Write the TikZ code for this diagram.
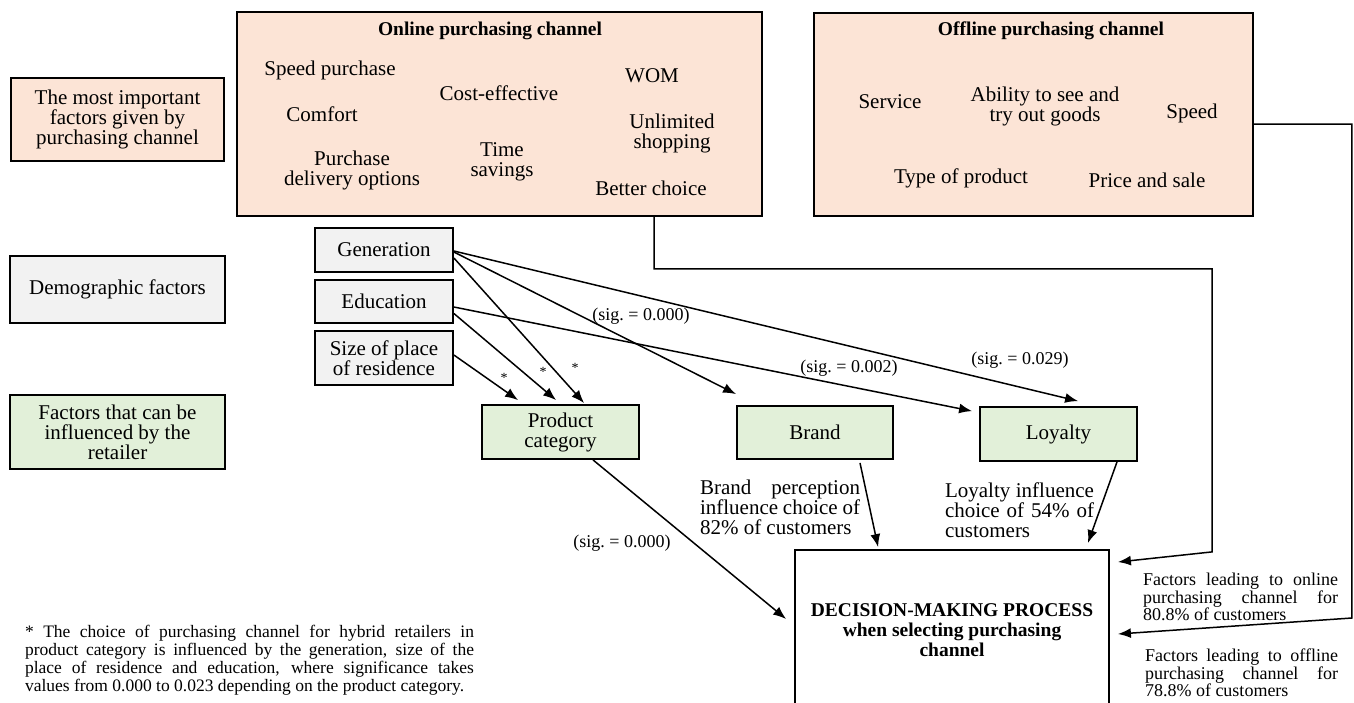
\documentclass[tikz,border=0pt]{standalone}
\usepackage{fontspec}
\setmainfont{Liberation Serif}
\usetikzlibrary{arrows.meta}
\definecolor{peachbg}{HTML}{FCE4D6}
\definecolor{greybg}{HTML}{F2F2F2}
\definecolor{greenbg}{HTML}{E2F0D9}
\newcommand{\txtmain}{\fontsize{21}{20}\selectfont}
\newcommand{\txtsmall}{\fontsize{18}{16.5}\selectfont}
\newcommand{\txtnote}{\fontsize{17.5}{18}\selectfont}
\newcommand{\txtsig}{\fontsize{18}{18}\selectfont}
\newcommand{\txttitle}{\fontsize{19.5}{20}\selectfont\bfseries}

\begin{document}
\begin{tikzpicture}[x=1pt, y=-1pt,
    box/.style={draw, line width=1.8pt, inner sep=0pt, align=center, font=\txtmain},
    peachbox/.style={box, fill=peachbg},
    greybox/.style={box, fill=greybg},
    greenbox/.style={box, fill=greenbg},
    lbl/.style={inner sep=0pt, align=center, font=\txtmain},
    sig/.style={inner sep=0pt, font=\txtsig},
    star/.style={inner sep=0pt, font=\fontsize{14}{14}\selectfont},
    arr/.style={-{Latex[length=13pt,width=10pt]}, line width=1.5pt}]
    \useasboundingbox (0,0) rectangle (1354,702);
    % left column
    \node[peachbox, minimum width=213pt, minimum height=83pt] (imp) at (117.5,119.5) {The most important\\factors given by\\purchasing channel};
    \node[greybox, minimum width=215pt, minimum height=67pt] (demo) at (117.5,289.5) {Demographic factors};
    \node[greenbox, minimum width=215pt, minimum height=74pt] (infl) at (117.5,432) {Factors that can be\\influenced by the\\retailer};
    % purchasing channels
    \node[peachbox, minimum width=525pt, minimum height=204pt] (online) at (499.5,114) {};
    \node[lbl, font=\txttitle] (onTitle) at (490,31) {Online purchasing channel};
    \node[lbl] (onSpeed) at (330,70) {Speed purchase};
    \node[lbl] (onCost) at (499,93) {Cost-effective};
    \node[lbl] (onWom) at (652,76) {WOM};
    \node[lbl] (onComfort) at (322,114) {Comfort};
    \node[lbl] (onUnlim) at (672,133) {Unlimited\\shopping};
    \node[lbl] (onDeliv) at (352,170) {Purchase\\delivery options};
    \node[lbl] (onTime) at (502,162) {Time\\savings};
    \node[lbl] (onChoice) at (651,188) {Better choice};
    \node[peachbox, minimum width=439pt, minimum height=203pt] (offline) at (1033.5,114.5) {};
    \node[lbl, font=\txttitle] (offTitle) at (1051,31) {Offline purchasing channel};
    \node[lbl] (offService) at (890,102) {Service};
    \node[lbl] (offTry) at (1045,106) {Ability to see and\\try out goods};
    \node[lbl] (offSpeed) at (1192,113) {Speed};
    \node[lbl] (offType) at (961,178) {Type of product};
    \node[lbl] (offPrice) at (1147,180) {Price and sale};
    % demographic factors and retailer factors
    \node[greybox, minimum width=138pt, minimum height=44pt] (gen) at (384,250) {Generation};
    \node[greybox, minimum width=138pt, minimum height=43pt] (edu) at (384,301.5) {Education};
    \node[greybox, minimum width=138pt, minimum height=54pt] (size) at (384,358) {Size of place\\of residence};
    \node[greenbox, minimum width=157pt, minimum height=54pt] (prod) at (560.5,432) {Product\\category};
    \node[greenbox, minimum width=156pt, minimum height=53pt] (brand) at (815,432.5) {Brand};
    \node[greenbox, minimum width=157pt, minimum height=54pt] (loyal) at (1058.5,434) {Loyalty};
    \node[box, minimum width=314pt, minimum height=160pt, font=\txttitle] (dec) at (952,630) {DECISION-MAKING PROCESS\\when selecting purchasing\\channel};
    % connectors
    \draw[arr] ([yshift=3pt]size.east) -- ([xshift=37pt,yshift=4pt]prod.north west);
    \draw[arr] ([yshift=-12pt]edu.east) -- ([xshift=75pt,yshift=4pt]prod.north west);
    \draw[arr] ([yshift=-8pt]gen.east) -- ([xshift=103pt,yshift=1pt]prod.north west);
    \draw[arr] ([yshift=-2pt]gen.east) -- ([yshift=11pt]brand.north west);
    \draw[arr] ([yshift=-1pt]gen.east) -- ([xshift=99pt,yshift=5pt]loyal.north west);
    \draw[arr] ([yshift=-5.5pt]edu.east) -- ([xshift=-7pt,yshift=-5pt]loyal.north west);
    \draw[arr] ([xshift=32.5pt]prod.south) -- ([xshift=-8pt,yshift=11pt]dec.west);
    \draw[arr] ([xshift=45pt,yshift=-3pt]brand.south) -- ([xshift=84pt,yshift=2pt]dec.north west);
    \draw[arr] ([xshift=58.5pt]loyal.south) -- ([xshift=-22pt,yshift=6pt]dec.north east);
    \draw[arr] ([xshift=154.5pt]online.south) -- ++(0,52) -- ++(558,0) -- ++(0,283) -- ([xshift=8pt,yshift=68pt]dec.east);
    \draw[arr] ([yshift=-9.5pt]offline.east) -- ++(98,0) -- ++(0,494) -- ([xshift=8pt,yshift=-4pt]dec.east);
    % labels
    \node[star] (st1) at (504,378) {*};
    \node[star] (st2) at (543,372) {*};
    \node[star] (st3) at (575,368) {*};
    \node[sig] (sigBrand) at (641,316) {(sig.\ = 0.000)};
    \node[sig] (sigEdu) at (849,368) {(sig.\ = 0.002)};
    \node[sig] (sigGen) at (1020,360) {(sig.\ = 0.029)};
    \node[sig] (sigProd) at (622,543) {(sig.\ = 0.000)};
    \node[lbl, text width=160pt, align=justify] (brandTxt) at (780,507) {Brand perception\linebreak influence choice of\linebreak 82\% of customers};
    \node[lbl, text width=149pt, align=justify] (loyalTxt) at (1019.5,510) {Loyalty influence\linebreak choice of 54\% of\linebreak customers};
    \node[lbl, font=\txtsmall, text width=195pt, align=justify] (onTxt) at (1240.5,597) {Factors leading to online\linebreak purchasing channel for\linebreak 80.8\% of customers};
    \node[lbl, font=\txtsmall, text width=193pt, align=justify] (offTxt) at (1241.5,673) {Factors leading to offline\linebreak purchasing channel for\linebreak 78.8\% of customers};
    \node[lbl, font=\txtnote, text width=449pt, align=justify] (note) at (249.5,660) {* The choice of purchasing channel for hybrid retailers in\linebreak product category is influenced by the generation, size of the\linebreak place of residence and education, where significance takes\linebreak values from 0.000 to 0.023 depending on the product category.};
\end{tikzpicture}
\end{document}
